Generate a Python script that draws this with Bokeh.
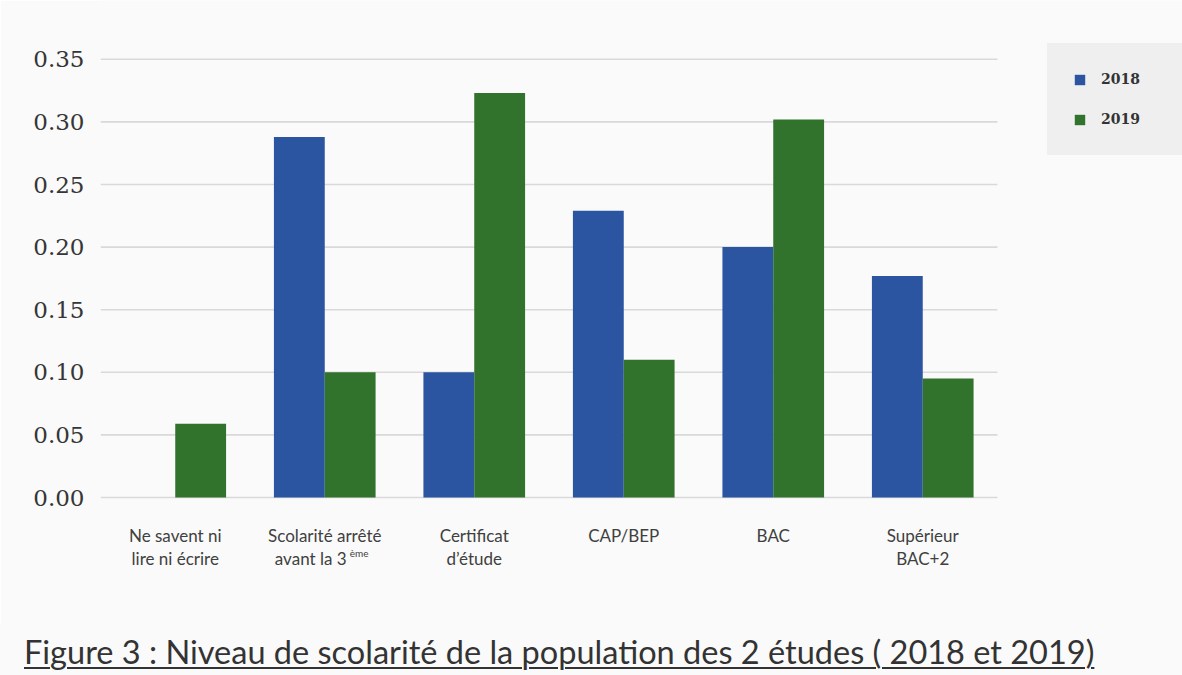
from bokeh.plotting import figure
from bokeh.models import (ColumnDataSource, Range1d, FixedTicker,
                          NumeralTickFormatter, Div)
from bokeh.core.properties import value
from bokeh.layouts import column
from bokeh.embed import file_html
from bokeh.resources import INLINE

categories = ["Ne savent ni lire ni écrire", "Scolarité arrêté avant la 3 ème",
              "Certificat d'étude", "CAP/BEP", "BAC", "Supérieur BAC+2"]
label_line1 = ["Ne savent ni", "Scolarité arrêté", "Certificat", "CAP/BEP", "BAC", "Supérieur"]
label_line2 = ["lire ni écrire", "avant la 3", "d\u2019étude", "", "", "BAC+2"]
superscript = "ème"
values_2018 = [0.0, 0.288, 0.100, 0.229, 0.200, 0.177]
values_2019 = [0.059, 0.100, 0.323, 0.110, 0.302, 0.095]
y_ticks = [0.0, 0.05, 0.10, 0.15, 0.20, 0.25, 0.30, 0.35]
caption = "Figure 3 : Niveau de scolarité de la population des 2 études ( 2018 et 2019)"

BLUE = "#2b55a0"
GREEN = "#31722d"
BG = "#fafafa"
BAR_W = 0.34

n = len(categories)
centers = [i + 0.5 for i in range(n)]
src = ColumnDataSource(dict(
    x18=[c - BAR_W / 2 for c in centers], x19=[c + BAR_W / 2 for c in centers],
    y2018=values_2018, y2019=values_2019))

FIG_W, FIG_H = 1182, 625
LEFT = 100
PX_PER_CAT = 149.5
PX_PER_UNIT = 1252.0
ZERO_Y = 497  # pixel row of y = 0

p = figure(width=FIG_W, height=FIG_H,
           x_range=Range1d(0, (FIG_W - LEFT) / PX_PER_CAT),
           y_range=Range1d(-(FIG_H - ZERO_Y) / PX_PER_UNIT, ZERO_Y / PX_PER_UNIT),
           output_backend="svg", toolbar_location=None,
           min_border_left=LEFT, min_border_right=0, min_border_top=0,
           min_border_bottom=0)
p.background_fill_color = BG
p.border_fill_color = BG
p.outline_line_color = None
p.xaxis.visible = False
p.xgrid.visible = False
p.ygrid.visible = False

# horizontal gridlines across the category area
p.segment(x0=[0] * len(y_ticks), x1=[n] * len(y_ticks), y0=y_ticks, y1=y_ticks,
          line_color="#d9d9d9", line_width=1.6)

p.vbar(x="x18", top="y2018", width=BAR_W, source=src,
       fill_color=BLUE, line_color=None, legend_label="2018")
p.vbar(x="x19", top="y2019", width=BAR_W, source=src,
       fill_color=GREEN, line_color=None, legend_label="2019")

yax = p.yaxis[0]
yax.ticker = FixedTicker(ticks=y_ticks)
yax.formatter = NumeralTickFormatter(format="0.00")
yax.axis_line_color = None
yax.major_tick_line_color = None
yax.minor_tick_line_color = None
yax.major_tick_out = 0
yax.major_tick_in = 0
yax.major_label_standoff = 16
yax.major_label_text_font = "DejaVu Serif"
yax.major_label_text_font_size = "23px"
yax.major_label_text_color = "#363636"

# category labels under the bars
lab = dict(text_baseline="middle", text_font=value("Lato"),
           text_font_size="17px", text_color="#404040")
p.text(x=centers, y=[0] * n, text=label_line1, y_offset=38, text_align="center", **lab)
p.text(x=centers, y=[0] * n, text=label_line2, y_offset=61,
       x_offset=[0, -14, 0, 0, 0, 0], text_align="center", **lab)
# superscript "ème" after "avant la 3"
p.text(x=[centers[1]], y=[0], text=[superscript], x_offset=25, y_offset=55,
       text_align="left", text_baseline="middle", text_font=value("Lato"),
       text_font_size="10px", text_color="#404040")

lg = p.legend[0]
lg.location = (1047 - LEFT, FIG_H - 155)
lg.background_fill_color = "#efefef"
lg.background_fill_alpha = 1.0
lg.border_line_color = "#efefef"
lg.border_line_alpha = 1.0
lg.padding = 25
lg.margin = 0
lg.spacing = 20
lg.glyph_width = 13
lg.glyph_height = 13
lg.label_height = 20
lg.label_width = 55
lg.label_standoff = 15
lg.label_text_font = "DejaVu Serif"
lg.label_text_font_style = "bold"
lg.label_text_font_size = "14px"
lg.label_text_color = "#333333"

div = Div(text=('<span style="text-decoration: underline; '
                'text-decoration-thickness: 2px; text-underline-offset: 3px;">'
                + caption + '</span>'),
          width=FIG_W, height=50, margin=0,
          styles={"font-family": "Lato", "font-size": "32.5px", "color": "#333333",
                  "background-color": BG, "line-height": "38px",
                  "padding-left": "24px", "padding-top": "8px",
                  "box-sizing": "border-box", "white-space": "nowrap",
                  "overflow": "visible"})

layout = column(p, div, spacing=0, margin=0)
open("out.html", "w").write(file_html(layout, INLINE))
